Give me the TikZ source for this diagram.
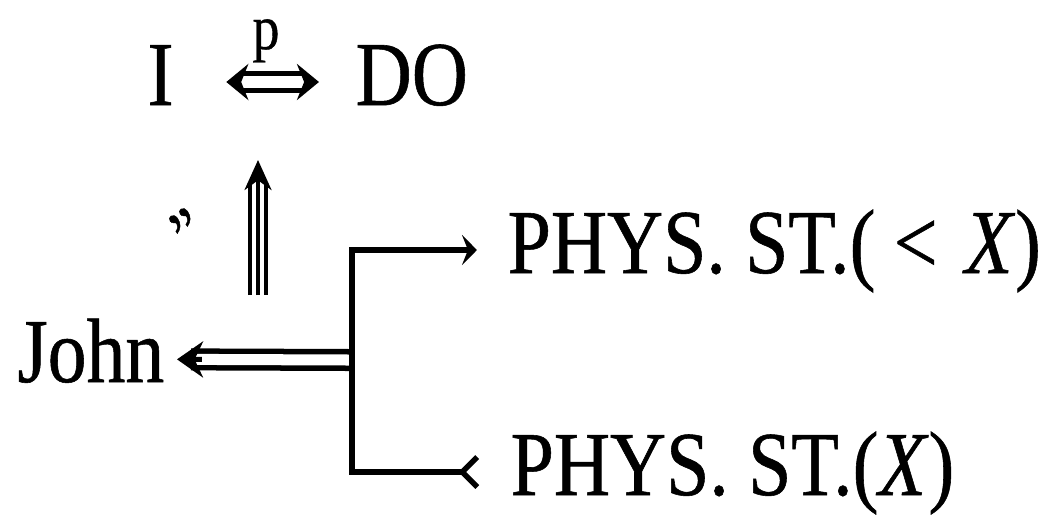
\documentclass[tikz,border=0pt]{standalone}
\usepackage{fontspec}
\setmainfont{Liberation Serif}[FakeStretch=0.85,FakeBold=0.6]
\usetikzlibrary{arrows.meta}

\tikzset{
  cd/.style={font=\fontsize{26pt}{30pt}\selectfont,inner sep=0pt,text height=6.1mm,text depth=1.5mm},
  dbl/.style={double,double distance=1.1mm,line width=0.55mm},
  branch/.style={line width=0.55mm},
}

\begin{document}
\begin{tikzpicture}[x=0.01cm,y=-0.01cm,>={Stealth[length=2.2mm,width=3.6mm]}]
\useasboundingbox (0,0) rectangle (1052,514);
% top: I <=p=> DO
\node[cd,anchor=base west] (i) at (147,105) {I};
\node[cd,anchor=base west] (do) at (355,105) {DO};
\draw[dbl,<->,shorten <=5.2mm,shorten >=3.6mm] (i) -- (do);
\node[font=\fontsize{18pt}{20pt}\selectfont,inner sep=0pt,text height=3mm,text depth=1.5mm,anchor=base] (p) at (266,49) {p};
% triple arrow up
\coordinate (tbot) at (258,295);
\coordinate (ttop) at (258,160);
\draw[line width=0.4mm,double,double distance=1.25mm,shorten >=2.5mm] (tbot) -- (ttop);
\draw[line width=0.4mm,->,>={Stealth[length=3mm,width=2.7mm]}] (tbot) -- (ttop);
\node[font=\fontsize{20pt}{20pt}\selectfont,inner sep=0pt,rotate=35] (mk) at (181,220) {,,};
% John and the two states
\node[cd,anchor=base east] (john) at (165,382) {John};
\node[cd,anchor=base west] (sttop) at (507,273) {PHYS. ST.(\hspace{0.2em}<\hspace{0.3em}\textit{X})};
\node[cd,anchor=base west] (stbot) at (510,495) {PHYS. ST.(\textit{X})};
\coordinate (split) at (352,360);
\draw[dbl,shorten >=2.6mm] (split) -- (john);
\draw[line width=0.5mm,->,>={Stealth[length=2.6mm,width=3.6mm]},shorten <=15mm,shorten >=1.2mm] (split) -- (john);
\draw[branch,->,>={Stealth[length=1.5mm,width=3mm,inset=0.6mm]},shorten >=3mm] (split) |- (sttop);
\draw[branch,-{Straight Barb[reversed,length=1.5mm,width=3mm]},shorten >=3mm] (split) |- (stbot);
\end{tikzpicture}
\end{document}
